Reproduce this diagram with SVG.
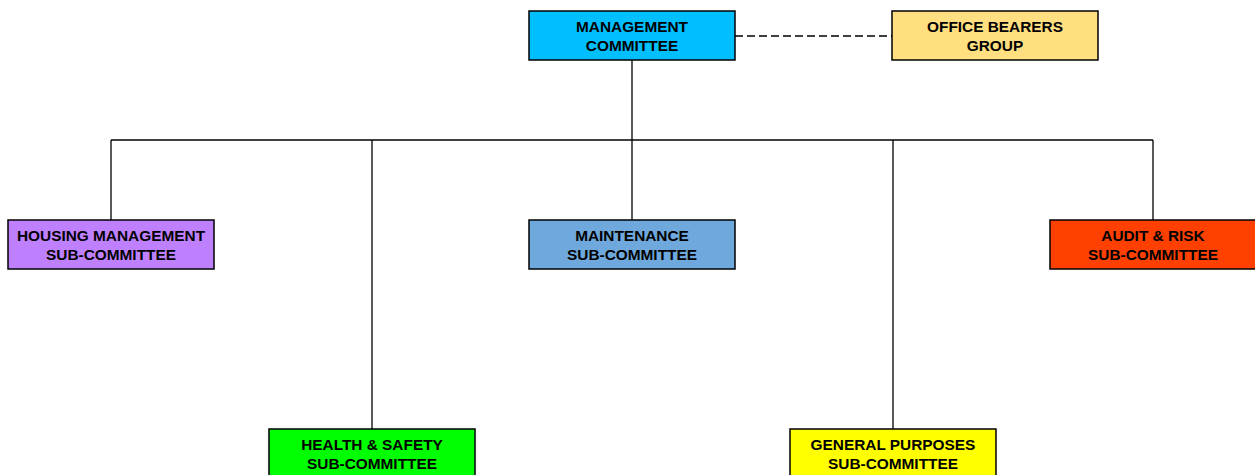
<svg xmlns="http://www.w3.org/2000/svg" width="1255" height="475" viewBox="0 0 1255 475">
<style>
.box{stroke:#000;stroke-width:1.5}
.t{font-family:"Liberation Sans",Arial,sans-serif;font-weight:bold;font-size:15.4px;text-anchor:middle;fill:#000}
.c{stroke:#000;stroke-width:1.3;fill:none}
</style>
<rect width="1255" height="475" fill="#fff"/>
<g id="connectors">
<line class="c" x1="735" y1="36" x2="892" y2="36" stroke-dasharray="8,4" stroke-width="1.6"/>
<line class="c" x1="632" y1="60" x2="632" y2="140"/>
<line class="c" x1="111" y1="140" x2="1153" y2="140"/>
<line class="c" x1="111" y1="140" x2="111" y2="220"/>
<line class="c" x1="372" y1="140" x2="372" y2="429"/>
<line class="c" x1="632" y1="140" x2="632" y2="220"/>
<line class="c" x1="893" y1="140" x2="893" y2="429"/>
<line class="c" x1="1153" y1="140" x2="1153" y2="220"/>
</g>
<g id="management">
<rect class="box" x="529" y="11" width="206" height="49" fill="#00BFFF"/>
<text class="t" x="632" y="31.5">MANAGEMENT</text>
<text class="t" x="632" y="50.5">COMMITTEE</text>
</g>
<g id="office-bearers">
<rect class="box" x="892" y="11" width="206" height="49" fill="#FFDF80"/>
<text class="t" x="995" y="31.5">OFFICE BEARERS</text>
<text class="t" x="995" y="50.5">GROUP</text>
</g>
<g id="housing">
<rect class="box" x="8" y="220" width="206" height="49" fill="#BF80FF"/>
<text class="t" x="111" y="240.5">HOUSING MANAGEMENT</text>
<text class="t" x="111" y="259.5">SUB-COMMITTEE</text>
</g>
<g id="maintenance">
<rect class="box" x="529" y="220" width="206" height="49" fill="#6FA8DC"/>
<text class="t" x="632" y="240.5">MAINTENANCE</text>
<text class="t" x="632" y="259.5">SUB-COMMITTEE</text>
</g>
<g id="audit">
<rect class="box" x="1050" y="220" width="206" height="49" fill="#FF4000"/>
<text class="t" x="1153" y="240.5">AUDIT &amp; RISK</text>
<text class="t" x="1153" y="259.5">SUB-COMMITTEE</text>
</g>
<g id="health">
<rect class="box" x="269" y="429" width="206" height="49" fill="#00FF00"/>
<text class="t" x="372" y="449.5">HEALTH &amp; SAFETY</text>
<text class="t" x="372" y="468.5">SUB-COMMITTEE</text>
</g>
<g id="general">
<rect class="box" x="790" y="429" width="206" height="49" fill="#FFFF00"/>
<text class="t" x="893" y="449.5">GENERAL PURPOSES</text>
<text class="t" x="893" y="468.5">SUB-COMMITTEE</text>
</g>
</svg>
